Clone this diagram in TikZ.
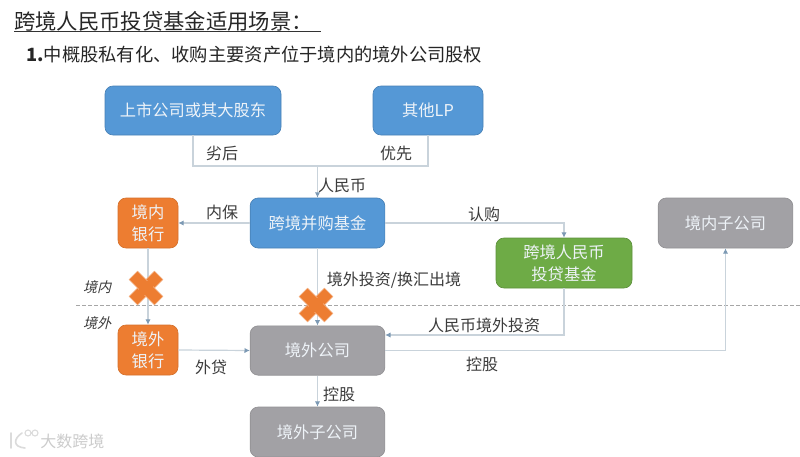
\documentclass[tikz,border=0pt]{standalone}
\usepackage{fontspec}
\setmainfont{Noto Sans CJK SC}
\newfontfamily\cjkslant[AutoFakeSlant=0.25]{Noto Sans CJK SC}
\usetikzlibrary{arrows.meta}
\definecolor{boxblue}{HTML}{5598D6}
\definecolor{boxorange}{HTML}{ED7D31}
\definecolor{boxgray}{HTML}{A2A1A5}
\definecolor{boxgreen}{HTML}{6EAB46}
\definecolor{linecol}{HTML}{C9D3DB}
\definecolor{tipcol}{HTML}{7C99B4}
\definecolor{labelcol}{HTML}{3C3C3C}
\definecolor{boxtext}{HTML}{EEF3F8}
\tikzset{
  x=0.75pt,y=-0.75pt,
  base/.style={rectangle,rounded corners=6pt,inner sep=0pt,align=center,text=boxtext,
    font=\fontsize{12.2pt}{16.5pt}\selectfont,line width=0.5pt},
  bluebox/.style={base,fill=boxblue,draw=boxblue!85!black,minimum height=36.75pt},
  orangebox/.style={base,fill=boxorange,draw=boxorange!90!black,minimum width=45pt,minimum height=37.5pt},
  graybox/.style={base,fill=boxgray,draw=boxgray!90!black,minimum width=101pt,minimum height=37pt},
  greenbox/.style={base,fill=boxgreen,draw=boxgreen!85!black,minimum width=102pt,minimum height=37.5pt},
  lbl/.style={inner sep=0pt,text=labelcol,font=\fontsize{12pt}{14pt}\selectfont},
  slbl/.style={inner sep=0pt,text=labelcol,font=\cjkslant\itshape\fontsize{10.5pt}{12pt}\selectfont},
  conn/.style={draw=linecol,line width=0.9pt},
  arr/.style={conn,-{Latex[length=4pt,width=4pt,color=tipcol]}},
  crossarm/.style={fill=boxorange,draw=boxorange!60!white,line width=0.3pt},
}
\begin{document}
\begin{tikzpicture}
\useasboundingbox (0,0) rectangle (800,457);
\fill[white] (0,0) rectangle (800,457);

% title
\node[anchor=west,inner sep=0pt,text=black!85,font=\fontsize{16pt}{18pt}\selectfont] (title) at (14,21) {跨境人民币投贷基金适用场景：};
\coordinate (ul1) at (14,31.5);
\coordinate (ul2) at (321,31.5);
\draw[black!80,line width=0.7pt] (ul1) -- (ul2);
\node[anchor=west,inner sep=0pt,text=black!85,font=\fontsize{13.7pt}{16pt}\selectfont] (sub) at (26,55) {\textbf{1.}中概股私有化、收购主要资产位于境内的境外公司股权};

% dashed border
\coordinate (d1) at (76,305);
\coordinate (d2) at (800,305);
\draw[black!35,dashed,line width=0.4pt,dash pattern=on 3pt off 1.5pt] (d1) -- (d2);

% boxes
\node[bluebox,minimum width=132pt] (listed) at (193,110.5) {上市公司或其大股东};
\node[bluebox,minimum width=82.5pt] (lp) at (428,110.5) {其他LP};
\node[bluebox,minimum width=101pt,minimum height=37.5pt] (fund) at (317.5,223) {跨境并购基金};
\node[orangebox] (inbank) at (148,223) {境内\\银行};
\node[orangebox] (outbank) at (148,350) {境外\\银行};
\node[graybox] (outco) at (317.5,350.5) {境外公司};
\node[graybox,minimum height=37.5pt] (outsub) at (317.5,432) {境外子公司};
\node[greenbox] (rmbfund) at (564,263) {跨境人民币\\投贷基金};
\node[graybox,minimum height=37.5pt] (insub) at (725.5,223) {境内子公司};

% connectors
\coordinate (join) at (317.5,166);
\draw[conn] (listed.south) |- (join);
\draw[conn] (lp.south) |- (join);
\draw[arr] (join) -- (fund.north);
\draw[arr] (fund.west) -- (inbank.east);
\draw[arr] (fund.east) -| (rmbfund.north);
\draw[arr] (fund.south) -- (outco.north);
\draw[arr] (inbank.south) -- (outbank.north);
\draw[arr] (outbank.east) -- (outco.west);
\draw[arr] (outco.south) -- (outsub.north);
\coordinate (rmbin) at (outco.east |- 0,335);
\draw[arr] (rmbfund.south) |- (rmbin);
\draw[arr] (outco.east) -| (insub.south);

% crosses
\foreach \cx/\cy in {146/288,316/305}{
  \begin{scope}[shift={(\cx,\cy)}]
    \fill[crossarm,rotate=45] (-18,-6) rectangle (18,6);
    \fill[crossarm,rotate=-45] (-18,-6) rectangle (18,6);
    \fill[boxorange] (-7,-7) rectangle (7,7);
  \end{scope}
}

% labels
\node[lbl] (l1) at (222,153) {劣后};
\node[lbl] (l2) at (396,153) {优先};
\node[lbl] (l3) at (342,185) {人民币};
\node[lbl] (l4) at (222,212) {内保};
\node[lbl] (l5) at (484,214) {认购};
\node[lbl] (l6) at (394,280) {境外投资/换汇出境};
\node[lbl] (l7) at (484,325) {人民币境外投资};
\node[lbl] (l8) at (211,367) {外贷};
\node[lbl] (l9) at (482,364) {控股};
\node[lbl] (l10) at (339,394) {控股};
\node[slbl] (inl) at (97,287) {境内};
\node[slbl] (outl) at (97,323) {境外};

% watermark
\draw[black!14,line width=1.2pt,line cap=round] (11,433) -- (11,448) (22,433) .. controls (13,439) and (13,447) .. (25,448);
\draw[black!14,line width=0.8pt] (28,433) circle (3) (35,433) circle (3);
\node[inner sep=0pt,anchor=west,text=black!20,font=\fontsize{12pt}{14pt}\selectfont] (wm) at (40,441) {大数跨境};
\end{tikzpicture}
\end{document}
